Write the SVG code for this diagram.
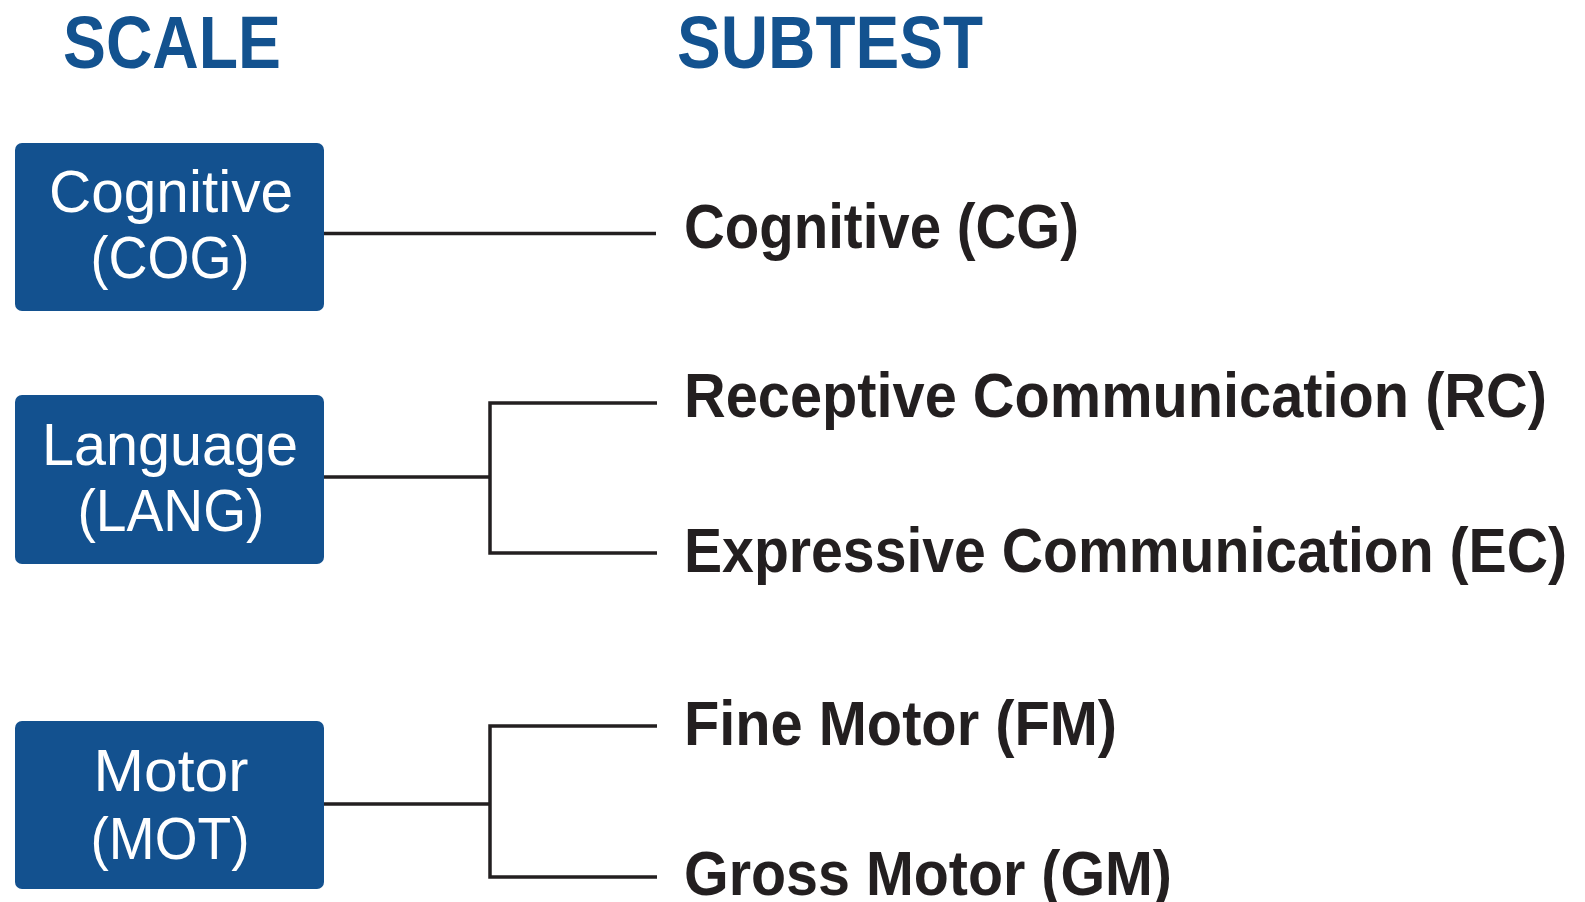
<svg xmlns="http://www.w3.org/2000/svg" width="1585" height="902" viewBox="0 0 1585 902">
<style>
.hdr{font-family:"Liberation Sans",Arial,sans-serif;font-weight:bold;font-size:74px;fill:#13528f}
.box{fill:#13518f}
.bt{font-family:"Liberation Sans",Arial,sans-serif;font-size:60px;fill:#ffffff;text-anchor:middle}
.st{font-family:"Liberation Sans",Arial,sans-serif;font-weight:bold;font-size:63px;fill:#231f20}
.conn{fill:none;stroke:#231f20;stroke-width:3.5}
</style>
<rect width="1585" height="902" fill="#ffffff"/>
<g id="headers">
<text class="hdr" x="63" y="68" textLength="218" lengthAdjust="spacingAndGlyphs">SCALE</text>
<text class="hdr" x="677" y="68" textLength="306" lengthAdjust="spacingAndGlyphs">SUBTEST</text>
</g>
<g id="connectors">
<path class="conn" d="M324 233.5H656"/>
<path class="conn" d="M324 477H490M657 403H490V553H657"/>
<path class="conn" d="M324 804H490M657 726H490V877H657"/>
</g>
<g id="node-cog">
<rect class="box" x="15" y="143" width="309" height="168" rx="7"/>
<text class="bt" x="171" y="212" textLength="244" lengthAdjust="spacingAndGlyphs">Cognitive</text>
<text class="bt" x="170" y="278" textLength="159" lengthAdjust="spacingAndGlyphs">(COG)</text>
</g>
<g id="node-lang">
<rect class="box" x="15" y="395" width="309" height="169" rx="7"/>
<text class="bt" x="170" y="465" textLength="256" lengthAdjust="spacingAndGlyphs">Language</text>
<text class="bt" x="171" y="531" textLength="187" lengthAdjust="spacingAndGlyphs">(LANG)</text>
</g>
<g id="node-mot">
<rect class="box" x="15" y="721" width="309" height="168" rx="7"/>
<text class="bt" x="171" y="791" textLength="155" lengthAdjust="spacingAndGlyphs">Motor</text>
<text class="bt" x="170" y="859" textLength="159" lengthAdjust="spacingAndGlyphs">(MOT)</text>
</g>
<g id="node-cg"><text class="st" x="684" y="248" textLength="395" lengthAdjust="spacingAndGlyphs">Cognitive (CG)</text></g>
<g id="node-rc"><text class="st" x="684" y="417" textLength="863" lengthAdjust="spacingAndGlyphs">Receptive Communication (RC)</text></g>
<g id="node-ec"><text class="st" x="684" y="572" textLength="883" lengthAdjust="spacingAndGlyphs">Expressive Communication (EC)</text></g>
<g id="node-fm"><text class="st" x="684" y="745" textLength="433" lengthAdjust="spacingAndGlyphs">Fine Motor (FM)</text></g>
<g id="node-gm"><text class="st" x="684" y="895" textLength="488" lengthAdjust="spacingAndGlyphs">Gross Motor (GM)</text></g>
</svg>
